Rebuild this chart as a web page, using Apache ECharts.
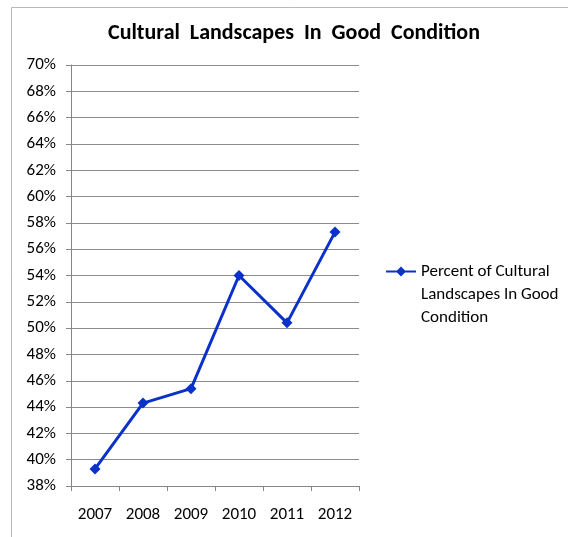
<!DOCTYPE html>
<html><head><meta charset="utf-8">
<script src="https://cdn.jsdelivr.net/npm/echarts@6/dist/echarts.min.js"></script>
<style>html,body{margin:0;padding:0;background:#fff}#c{width:568px;height:537px}</style>
</head><body><div id="c"></div>
<script>
const years = ['2007','2008','2009','2010','2011','2012'];
const percentGood = [39.3, 44.3, 45.4, 54.0, 50.4, 57.3];
const seriesName = 'Percent of Cultural\nLandscapes In Good\nCondition';
const titleText = 'Cultural  Landscapes  In  Good  Condition';
const yMin = 38, yMax = 70, yStep = 2;

const chart = echarts.init(document.getElementById('c'), null, {renderer:'canvas'});
const font = "Carlito, 'Liberation Sans', 'DejaVu Sans', sans-serif";
chart.setOption({
  animation: false,
  backgroundColor: '#fff',
  graphic: [{
    type: 'rect', left: 9, top: 5, shape: {width: 620, height: 600},
    style: {fill: 'none', stroke: '#b8b8b8', lineWidth: 1}
  }],
  title: {
    text: titleText, left: 289, textAlign: 'center', top: 17,
    textStyle: {fontFamily: font, fontSize: 22, fontWeight: 'bold', color: '#000'}
  },
  legend: {
    left: 381, top: 209, itemWidth: 30, itemHeight: 10, itemGap: 0,
    data: [{name: seriesName, icon: 'path://M0,4L11,4L15,0L19,4L30,4L30,6L19,6L15,10L11,6L0,6Z'}],
    itemStyle: {color: '#0a32c8'},
    formatter: function (name) { return '\n\n' + name; },
    textStyle: {fontFamily: font, fontSize: 17, color: '#000', lineHeight: 23}
  },
  grid: {left: 71, top: 65, width: 288, bottom: 51, containLabel: false},
  xAxis: {
    type: 'category', data: years, boundaryGap: true,
    axisLine: {lineStyle: {color: '#868686', width: 1}},
    axisTick: {show: true, length: 5, lineStyle: {color: '#868686'}},
    axisLabel: {fontFamily: font, fontSize: 17, color: '#000', margin: 20}
  },
  yAxis: {
    type: 'value', min: yMin, max: yMax, interval: yStep,
    axisLine: {show: true, lineStyle: {color: '#868686'}},
    axisTick: {show: true, length: 5, lineStyle: {color: '#868686'}},
    splitLine: {lineStyle: {color: '#8c8c8c', width: 1}},
    axisLabel: {formatter: '{value}%', fontFamily: font, fontSize: 17, color: '#000', margin: 15}
  },
  series: [{
    name: seriesName, type: 'line', data: percentGood,
    symbol: 'diamond', symbolSize: 11,
    lineStyle: {color: '#0a32c8', width: 3},
    itemStyle: {color: '#0a32c8'}
  }]
});
</script></body></html>
